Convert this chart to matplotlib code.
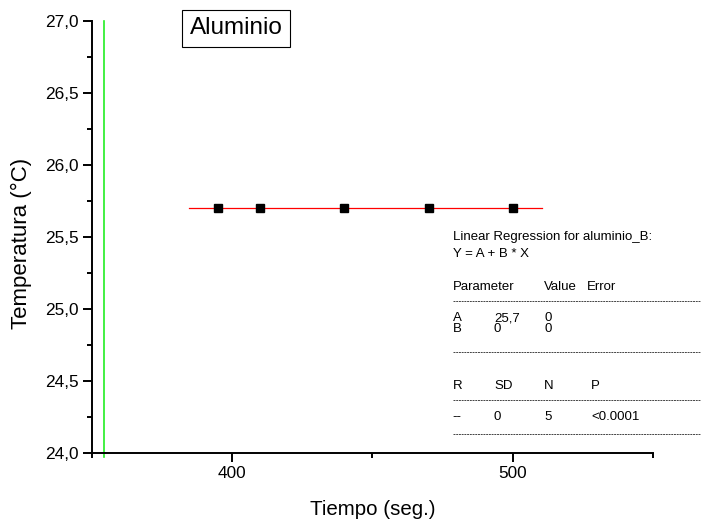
import numpy as np
import matplotlib
matplotlib.use("Agg")
from matplotlib import pyplot as plt
from matplotlib.lines import Line2D
from matplotlib.ticker import FuncFormatter, MultipleLocator

plt.rcParams['font.family'] = ['Liberation Sans', 'DejaVu Sans']

# datos medidos (aluminio)
tiempo = [395, 410, 440, 470, 500]
temperatura = [25.7, 25.7, 25.7, 25.7, 25.7]

# ajuste lineal Y = A + B*X
fit_A = 25.7
fit_B = 0.0
fit_x = [384.5, 510.5]

# linea vertical verde
linea_x = [354.5, 354.5]
linea_y = [23.97, 27.0]

reg_titulo = ["Linear Regression for aluminio_B:", "Y = A + B * X"]
param_cab = ["Parameter", "Value", "Error"]
param_filas = [["A", "25,7", "0"], ["B", "0", "0"]]
stat_cab = ["R", "SD", "N", "P"]
stat_fila = ["--", "0", "5", "<0.0001"]

W, H = 701, 520
fig = plt.figure(figsize=(W / 100, H / 100), dpi=100)
ax = fig.add_axes([91.7 / W, 1 - 452.7 / H, (653.3 - 91.7) / W, (452.7 - 21.3) / H])

ax.plot(linea_x, linea_y, color='#22ee22', lw=1.2, clip_on=False, zorder=1)
fx = np.array(fit_x)
ax.plot(fx, fit_A + fit_B * fx, color='red', lw=0.9, zorder=2)
ax.plot(tiempo, temperatura, 's', color='black', ms=6.3, zorder=3)

ax.set_xlim(350, 550)
ax.set_ylim(24.0, 27.0)
ax.xaxis.set_major_locator(MultipleLocator(100))
ax.xaxis.set_minor_locator(MultipleLocator(50))
ax.yaxis.set_major_locator(MultipleLocator(0.5))
ax.yaxis.set_minor_locator(MultipleLocator(0.25))
ax.yaxis.set_major_formatter(FuncFormatter(lambda v, p: ('%.1f' % v).replace('.', ',')))

for s in ['top', 'right']:
    ax.spines[s].set_visible(False)
for s in ['left', 'bottom']:
    ax.spines[s].set_linewidth(1.4)
ax.tick_params(which='major', direction='out', length=6.5, width=1.4, labelsize=12.4, pad=3)
ax.tick_params(which='minor', direction='out', length=3.5, width=1.4)

ax.set_xlabel("Tiempo (seg.)", fontsize=14.8, labelpad=14)
ax.set_ylabel("Temperatura (°C)", fontsize=16)
ax.yaxis.set_label_coords(-0.1063, 0.484)

fig.text(236 / W, 1 - 28.5 / H, "Aluminio", fontsize=17.5, ha='center', va='center',
         bbox=dict(boxstyle='square,pad=0.3', fc='white', ec='black', lw=0.8))

# texto de la regresion (posiciones en pixeles, linea base)
def fx_(px):
    return px / W

def fy_(py):
    return 1 - (py + 3.6) / H

fs = 9.5
bl = 'baseline'
fig.text(fx_(452.7), fy_(236.7), reg_titulo[0], fontsize=fs, va=bl)
fig.text(fx_(452.7), fy_(253.3), reg_titulo[1], fontsize=fs, va=bl)

for t, x in zip(param_cab, [452.7, 544.3, 587.3]):
    fig.text(fx_(x), fy_(286.7), t, fontsize=fs, va=bl)
for fila, y in zip(param_filas, [317.7, 328.5]):
    for t, x in zip(fila, [452.7, 494.0, 544.3]):
        fig.text(fx_(x), fy_(y), t, fontsize=fs, va=bl)
for t, x in zip(stat_cab, [452.7, 494.0, 544.3, 591.0]):
    fig.text(fx_(x), fy_(385.0), t, fontsize=fs, va=bl)
for t, x in zip(stat_fila, [452.7, 494.0, 544.3, 591.0]):
    fig.text(fx_(x), fy_(416.0), t, fontsize=fs, va=bl)

for y in [301.0, 351.5, 400.0, 434.0]:
    fig.add_artist(Line2D([fx_(452.7), fx_(700.0)], [1 - y / H, 1 - y / H], color='#444444',
                          lw=0.7, dashes=(2.0, 0.8), transform=fig.transFigure))

fig.savefig("out.png", dpi=100)
